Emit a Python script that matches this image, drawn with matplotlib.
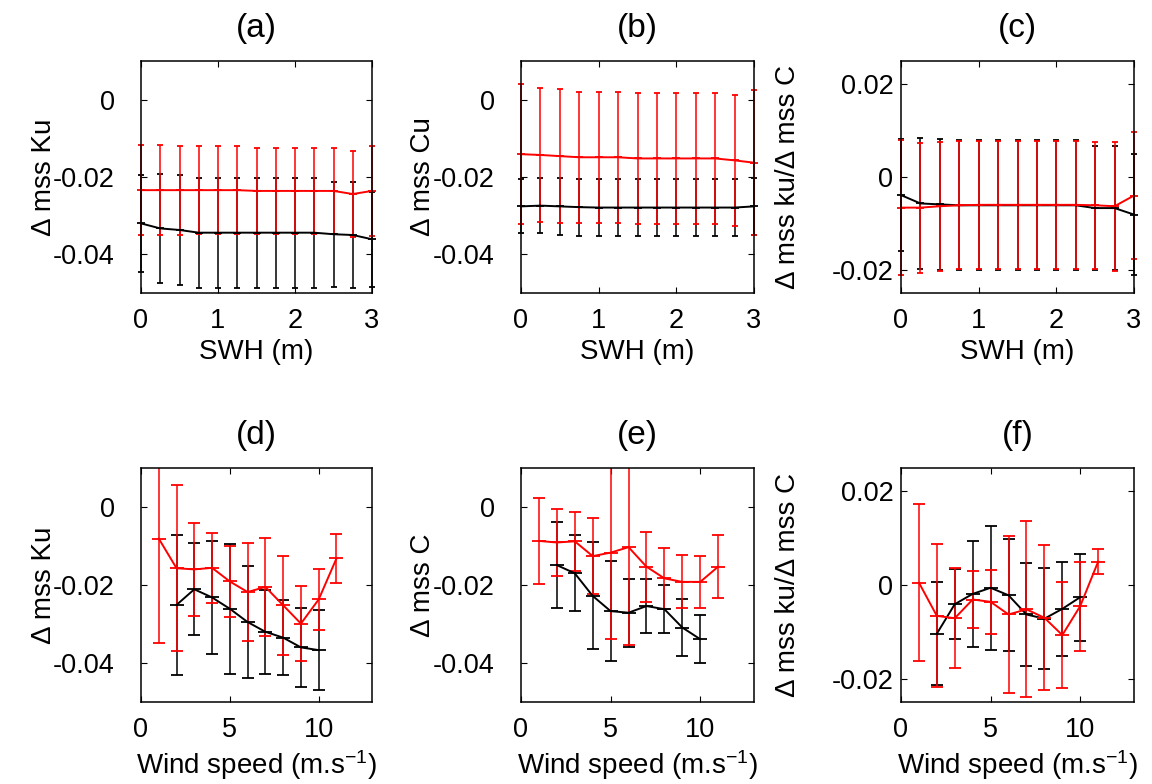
import matplotlib
matplotlib.use("Agg")
import matplotlib.pyplot as plt
from matplotlib.patches import Rectangle

plt.rcParams['font.family'] = ['Liberation Sans', 'DejaVu Sans']
plt.rcParams['mathtext.fontset'] = 'custom'
plt.rcParams['mathtext.rm'] = 'Liberation Sans'
plt.rcParams['mathtext.it'] = 'Liberation Sans:italic'
plt.rcParams['axes.unicode_minus'] = False

# ---------------- data ----------------
swh = [0, 0.25, 0.5, 0.75, 1.0, 1.25, 1.5, 1.75, 2.0, 2.25, 2.5, 2.75, 3.0]
wind_red = [1, 2, 3, 4, 5, 6, 7, 8, 9, 10, 11]
wind_black = [2, 3, 4, 5, 6, 7, 8, 9, 10]

# (a) delta mss Ku vs SWH
a_black = [-0.0320, -0.0333, -0.0337, -0.0344, -0.0344, -0.0344, -0.0344, -0.0344, -0.0344, -0.0344, -0.0348, -0.0350, -0.0361]
a_black_err = [0.0125, 0.0140, 0.0142, 0.0142, 0.0142, 0.0142, 0.0142, 0.0142, 0.0142, 0.0142, 0.0136, 0.0136, 0.0123]
a_red = [-0.0234, -0.0234, -0.0234, -0.0234, -0.0234, -0.0234, -0.0236, -0.0236, -0.0236, -0.0236, -0.0236, -0.0244, -0.0236]
a_red_err = [0.0116, 0.0116, 0.0115, 0.0113, 0.0113, 0.0113, 0.0112, 0.0112, 0.0112, 0.0112, 0.0112, 0.0111, 0.0117]

# (b) delta mss Cu vs SWH
b_black = [-0.0276, -0.0274, -0.0276, -0.0278, -0.0279, -0.0279, -0.0279, -0.0279, -0.0279, -0.0279, -0.0279, -0.0279, -0.0276]
b_black_err = [0.0070, 0.0072, 0.0074, 0.0074, 0.0074, 0.0074, 0.0074, 0.0074, 0.0074, 0.0074, 0.0074, 0.0074, 0.0073]
b_red = [-0.0141, -0.0143, -0.0146, -0.0149, -0.0149, -0.0149, -0.0152, -0.0152, -0.0152, -0.0152, -0.0152, -0.0157, -0.0163]
b_red_err = [0.0181, 0.0174, 0.0173, 0.0170, 0.0170, 0.0170, 0.0169, 0.0169, 0.0169, 0.0169, 0.0169, 0.0170, 0.0188]

# (c) ratio vs SWH
c_black = [-0.0039, -0.0057, -0.0059, -0.0061, -0.0061, -0.0061, -0.0061, -0.0061, -0.0061, -0.0061, -0.0067, -0.0067, -0.0081]
c_black_err = [0.0121, 0.0142, 0.0141, 0.0140, 0.0140, 0.0140, 0.0140, 0.0140, 0.0140, 0.0140, 0.0133, 0.0133, 0.0131]
c_red = [-0.0066, -0.0066, -0.0063, -0.0061, -0.0060, -0.0060, -0.0060, -0.0060, -0.0060, -0.0060, -0.0061, -0.0063, -0.0040]
c_red_err = [0.0146, 0.0140, 0.0139, 0.0138, 0.0138, 0.0138, 0.0138, 0.0138, 0.0138, 0.0138, 0.0137, 0.0139, 0.0136]

# (d) delta mss Ku vs wind speed
d_red = [-0.0081, -0.0157, -0.0160, -0.0156, -0.0191, -0.0218, -0.0205, -0.0252, -0.0299, -0.0237, -0.0132]
d_red_err = [0.0268, 0.0213, 0.0120, 0.0090, 0.0090, 0.0125, 0.0125, 0.0127, 0.0097, 0.0078, 0.0064]
d_black = [-0.0251, -0.0211, -0.0232, -0.0261, -0.0295, -0.0320, -0.0335, -0.0360, -0.0367]
d_black_err = [0.0180, 0.0118, 0.0145, 0.0167, 0.0143, 0.0107, 0.0097, 0.0102, 0.0102]

# (e) delta mss C vs wind speed
e_red = [-0.0087, -0.0091, -0.0088, -0.0126, -0.0117, -0.0103, -0.0153, -0.0183, -0.0192, -0.0192, -0.0153]
e_red_err = [0.0110, 0.0087, 0.0076, 0.0098, 0.0222, 0.0251, 0.0090, 0.0079, 0.0068, 0.0067, 0.0080]
e_black = [-0.0149, -0.0170, -0.0228, -0.0267, -0.0271, -0.0254, -0.0262, -0.0309, -0.0339]
e_black_err = [0.0110, 0.0097, 0.0137, 0.0128, 0.0087, 0.0069, 0.0061, 0.0074, 0.0062]

# (f) ratio vs wind speed
f_red = [0.0005, -0.0066, -0.0071, -0.0031, -0.0036, -0.0063, -0.0052, -0.0070, -0.0107, -0.0045, 0.0050]
f_red_err = [0.0168, 0.0153, 0.0107, 0.0061, 0.0068, 0.0168, 0.0188, 0.0155, 0.0114, 0.0095, 0.0027]
f_black = [-0.0104, -0.0041, -0.0019, -0.0006, -0.0022, -0.0063, -0.0072, -0.0051, -0.0026]
f_black_err = [0.0110, 0.0075, 0.0114, 0.0133, 0.0120, 0.0110, 0.0108, 0.0100, 0.0093]

titles = ['(a)', '(b)', '(c)', '(d)', '(e)', '(f)']
ylabels = ['\u0394 mss Ku', '\u0394 mss Cu', '\u0394 mss ku/\u0394 mss C',
           '\u0394 mss Ku', '\u0394 mss C', '\u0394 mss ku/\u0394 mss C']
xlabel_swh = 'SWH (m)'
xlabel_wind = 'Wind speed (m.s$^{-1}$)'

swh_ticks = [0, 1, 2, 3]
wind_ticks = [0, 5, 10]
yt_mss = [-0.04, -0.02, 0]
yt_mss_lab = ['-0.04', '-0.02', '0']
yt_ratio = [-0.02, 0, 0.02]
yt_ratio_lab = ['-0.02', '0', '0.02']

# ---------------- figure ----------------
fig = plt.figure(figsize=(11.52, 7.84), dpi=100)

W, H = 1152.0, 784.0
def add_ax(x0, x1, y0, y1):
    return fig.add_axes([x0 / W, 1 - y1 / H, (x1 - x0) / W, (y1 - y0) / H])

axes = [add_ax(141, 372, 61, 293), add_ax(521, 754, 61, 293), add_ax(901, 1134, 61, 293),
        add_ax(141, 372, 468, 702), add_ax(521, 754, 468, 702), add_ax(901, 1134, 468, 702)]

panels = [
    (swh, a_black, a_black_err, swh, a_red, a_red_err),
    (swh, b_black, b_black_err, swh, b_red, b_red_err),
    (swh, c_black, c_black_err, swh, c_red, c_red_err),
    (wind_black, d_black, d_black_err, wind_red, d_red, d_red_err),
    (wind_black, e_black, e_black_err, wind_red, e_red, e_red_err),
    (wind_black, f_black, f_black_err, wind_red, f_red, f_red_err),
]

FS_TICK = 19.5
FS_LAB = 20
for i, ax in enumerate(axes):
    xb, yb, eb, xr, yr, er = panels[i]
    top = i < 3
    cap = 2.4 if top else 4.5
    clip = Rectangle((-0.1, 0), 1.2, 1, transform=ax.transAxes, visible=False)
    for (xx, yy, ee, col) in [(xb, yb, eb, 'black'), (xr, yr, er, 'red')]:
        cont = ax.errorbar(xx, yy, yerr=ee, color=col, lw=1.4, elinewidth=1.1,
                           capsize=cap, capthick=1.1, marker='_',
                           markersize=2 * cap + 1, markeredgewidth=1.3)
        data_line, caplines, barcols = cont.lines
        for art in [data_line, *caplines, *barcols]:
            art.set_clip_path(clip)

    if top:
        ax.set_xlim(0, 3)
        ax.set_xticks(swh_ticks)
        ax.set_xticklabels([str(t) for t in swh_ticks])
        ax.set_xlabel(xlabel_swh, fontsize=FS_LAB, labelpad=4)
    else:
        ax.set_xlim(0, 13)
        ax.set_xticks(wind_ticks)
        ax.set_xticklabels([str(t) for t in wind_ticks])
        ax.set_xlabel(xlabel_wind, fontsize=FS_LAB, labelpad=4)

    if i in (2, 5):
        ax.set_ylim(-0.025, 0.025)
        ax.set_yticks(yt_ratio)
        ax.set_yticklabels(yt_ratio_lab)
        ypad = 5.5
        ax.set_ylabel(ylabels[i], fontsize=FS_LAB)
        ax.yaxis.set_label_coords(-0.43, 0.5)
    else:
        ax.set_ylim(-0.05, 0.01)
        ax.set_yticks(yt_mss)
        ax.set_yticklabels(yt_mss_lab)
        ypad = 19
        ax.set_ylabel(ylabels[i], fontsize=FS_LAB)
        ax.yaxis.set_label_coords(-0.365, 0.5)

    ax.tick_params(axis='both', direction='in', top=True, right=True,
                   length=4, width=0.8, labelsize=FS_TICK)
    ax.tick_params(axis='x', pad=10.5)
    ax.tick_params(axis='y', pad=ypad)
    for sp in ax.spines.values():
        sp.set_linewidth(1.1)
    ax.set_title(titles[i], fontsize=24, pad=17)

fig.savefig('out.png', dpi=100)
